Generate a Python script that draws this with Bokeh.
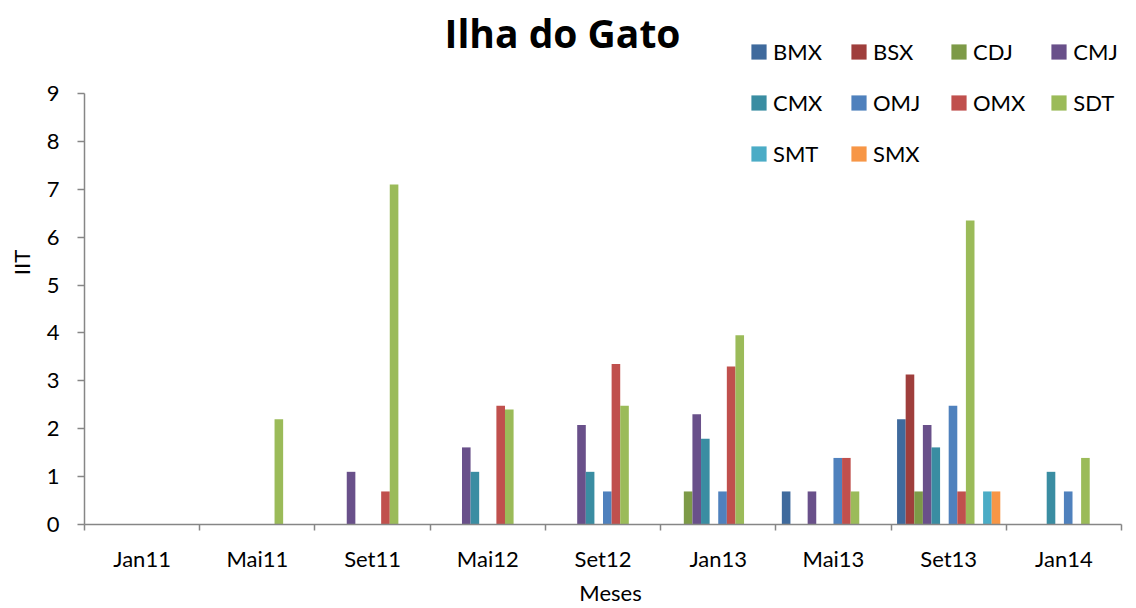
from bokeh.plotting import figure
from bokeh.models import Range1d, FixedTicker, Legend, LegendItem, ColumnDataSource, Label
from bokeh.embed import file_html
from bokeh.resources import INLINE

categories = ["Jan11", "Mai11", "Set11", "Mai12", "Set12", "Jan13", "Mai13", "Set13", "Jan14"]
series_names = ["BMX", "BSX", "CDJ", "CMJ", "CMX", "OMJ", "OMX", "SDT", "SMT", "SMX"]
BMX = [0, 0, 0, 0, 0, 0, 0.69, 2.2, 0]
BSX = [0, 0, 0, 0, 0, 0, 0, 3.13, 0]
CDJ = [0, 0, 0, 0, 0, 0.69, 0, 0.69, 0]
CMJ = [0, 0, 1.1, 1.61, 2.08, 2.3, 0.69, 2.08, 0]
CMX = [0, 0, 0, 1.1, 1.1, 1.79, 0, 1.61, 1.1]
OMJ = [0, 0, 0, 0, 0.69, 0.69, 1.39, 2.48, 0.69]
OMX = [0, 0, 0.69, 2.48, 3.35, 3.3, 1.39, 0.69, 0]
SDT = [0, 2.2, 7.1, 2.4, 2.48, 3.95, 0.69, 6.35, 1.39]
SMT = [0, 0, 0, 0, 0, 0, 0, 0.69, 0]
SMX = [0, 0, 0, 0, 0, 0, 0, 0.69, 0]
series_values = [BMX, BSX, CDJ, CMJ, CMX, OMJ, OMX, SDT, SMT, SMX]
y_ticks = [0, 1, 2, 3, 4, 5, 6, 7, 8, 9]
colors = ["#3F6A9D", "#9F3E3C", "#7D9A47", "#69508A", "#3A8DA2",
          "#4F81BD", "#C0504D", "#9BBB59", "#4BACC6", "#F79646"]
# slot of each series within a group (12 slots; two unused)
slots = [0, 1, 2, 3, 4, 6, 7, 8, 10, 11]
n_slots = 12
group_w = 0.896
bar_w = group_w / n_slots

FONT = "Lato"
FS = "22px"

p = figure(width=1136, height=608, x_range=Range1d(0, 9.13), y_range=Range1d(0, 10.942),
           output_backend="svg", toolbar_location=None,
           min_border_left=84, min_border_right=0, min_border_top=0, min_border_bottom=84)
p.outline_line_color = None
p.xgrid.visible = False
p.ygrid.visible = False

renderers = []
for name, vals, col, slot in zip(series_names, series_values, colors, slots):
    xs = [i + 0.5 - group_w / 2 + bar_w * (slot + 0.5) for i in range(len(categories))]
    src = ColumnDataSource(dict(x=xs, top=vals))
    r = p.vbar(x="x", top="top", bottom=0, width=bar_w, source=src,
               fill_color=col, line_color=None)
    renderers.append((name, r))

axis_color = "#868686"
xa = p.xaxis[0]
xa.bounds = (0, len(categories))
xa.ticker = FixedTicker(ticks=[i + 0.5 for i in range(len(categories))],
                        minor_ticks=list(range(len(categories) + 1)))
xa.major_label_overrides = {i + 0.5: c for i, c in enumerate(categories)}
xa.major_tick_line_color = None
xa.major_tick_out = 0
xa.major_tick_in = 0
xa.minor_tick_out = 6
xa.minor_tick_in = 0
xa.minor_tick_line_color = axis_color
xa.minor_tick_line_width = 1.5
xa.axis_line_color = axis_color
xa.axis_line_width = 1.5
xa.major_label_text_font = FONT
xa.major_label_text_font_size = FS
xa.major_label_text_color = "#000000"
xa.major_label_standoff = 14
xa.axis_label = "Meses"
xa.axis_label_text_font = FONT
xa.axis_label_text_font_size = FS
xa.axis_label_text_font_style = "normal"
xa.axis_label_text_color = "#000000"
xa.axis_label_standoff = 4

ya = p.yaxis[0]
ya.bounds = (0, 9)
ya.ticker = FixedTicker(ticks=y_ticks, minor_ticks=[])
ya.major_tick_out = 7
ya.major_tick_in = 0
ya.major_tick_line_color = axis_color
ya.major_tick_line_width = 1.5
ya.axis_line_color = axis_color
ya.axis_line_width = 1.5
ya.major_label_text_font = FONT
ya.major_label_text_font_size = FS
ya.major_label_text_color = "#000000"
ya.major_label_standoff = 18
ya.axis_label = "IIT"
ya.axis_label_text_font = FONT
ya.axis_label_text_font_size = FS
ya.axis_label_text_font_style = "normal"
ya.axis_label_text_color = "#000000"
ya.axis_label_standoff = 9

title = Label(x=478, y=492, x_units="screen", y_units="screen", text="Ilha do Gato",
              text_font="Open Sans", text_font_size="39px", text_font_style="bold",
              text_color="#000000", text_align="center", text_baseline="middle")
p.add_layout(title)

legend = Legend(items=[LegendItem(label=n, renderers=[r]) for n, r in renderers],
                orientation="horizontal", ncols=4, location=(665, 357),
                label_text_font=FONT, label_text_font_size=FS,
                label_text_color="#000000",
                glyph_width=19, glyph_height=19, label_standoff=5,
                label_width=52, label_height=24, spacing=24,
                padding=0, margin=0, border_line_color=None,
                background_fill_alpha=0)
p.add_layout(legend, "center")

open("out.html", "w").write(file_html(p, INLINE))
